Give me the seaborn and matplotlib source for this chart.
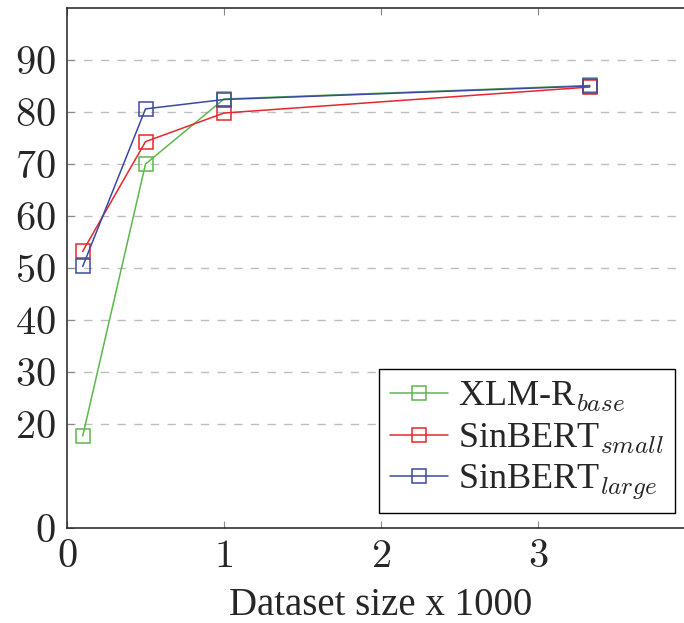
import matplotlib
matplotlib.use('Agg')
import matplotlib.pyplot as plt
import seaborn as sns
import pandas as pd

# data
sizes = [0.1, 0.5, 1.0, 3.33]
xlmr_base = [17.7, 70.0, 82.5, 85.1]
sinbert_small = [53.2, 74.3, 79.8, 84.8]
sinbert_large = [50.3, 80.6, 82.4, 85.0]
models = ['XLM-R$_{base}$', 'SinBERT$_{small}$', 'SinBERT$_{large}$']
colors = ['#5cb84a', '#e8262e', '#3a49a3']
xticks = [0, 1, 2, 3]
yticks = [0, 20, 30, 40, 50, 60, 70, 80, 90]

df = pd.DataFrame({
    'size': sizes * 3,
    'score': xlmr_base + sinbert_small + sinbert_large,
    'model': [m for m in models for _ in sizes],
})

sns.set_style('ticks')
plt.rcParams['font.family'] = ['Liberation Serif', 'DejaVu Serif']
plt.rcParams['mathtext.fontset'] = 'cm'

fig = plt.figure(figsize=(6.84, 6.23), dpi=100)
ax = fig.add_axes([67 / 684, 95 / 623, 628 / 684, 520 / 623])

for m, c in zip(models, colors):
    sns.lineplot(data=df[df['model'] == m], x='size', y='score', ax=ax,
                 color=c, marker='s', markersize=10, markerfacecolor='none',
                 markeredgecolor=c, markeredgewidth=1.1, linewidth=1.1,
                 label=m, legend=False)

ax.set_xlim(0, 4)
ax.set_ylim(0, 100)
ax.set_xticks(xticks, [f'${t}$' for t in xticks])
ax.set_yticks(yticks, [f'${t}$' for t in yticks])
for yv in yticks[1:]:
    ax.axhline(yv, color='#bdbdbd', linestyle=(0, (6, 6)), linewidth=1.0, zorder=0)

ax.tick_params(direction='in', length=5, width=0.8, color='#888888',
               top=True, right=False, labelsize=29, pad=8)
ax.spines['right'].set_visible(False)
for s in ax.spines.values():
    s.set_linewidth(1.1)
    s.set_color('#222222')

ax.set_xlabel('Dataset size x 1000', fontsize=28, labelpad=8)
ax.set_ylabel('')

handles = ax.get_lines()[:3]
leg = ax.legend(handles=handles, labels=models, loc='lower right',
                bbox_to_anchor=(0.968, 0.029), borderaxespad=0,
                fontsize=26, frameon=True, fancybox=False, framealpha=1,
                edgecolor='black', handlelength=1.6, handletextpad=0.3,
                labelspacing=0.2, borderpad=0.3)
leg.get_frame().set_linewidth(1.0)

fig.savefig('out.png', dpi=100)
